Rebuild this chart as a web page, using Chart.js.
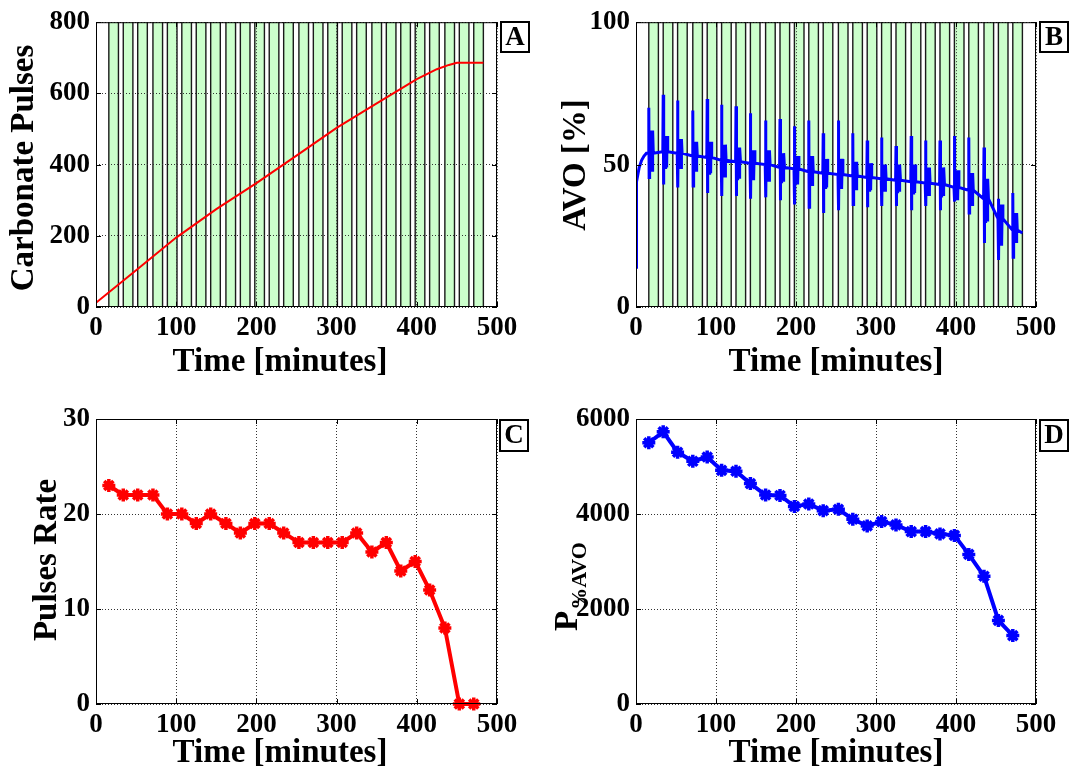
<!DOCTYPE html>
<html>
<head>
<meta charset="utf-8">
<title>Carbonate pulses and AVO</title>
<script src="https://cdn.jsdelivr.net/npm/chart.js@4.4.1/dist/chart.umd.min.js"></script>
<style>
  html, body { margin: 0; padding: 0; background: #fff; }
  #wrap { position: relative; width: 1070px; height: 771px; overflow: hidden; background: #fff; }
  #wrap canvas { position: absolute; }
</style>
</head>
<body>
<div id="wrap">
  <canvas id="chartA" width="535" height="385" style="left:0;top:0"></canvas>
  <canvas id="chartB" width="535" height="385" style="left:535px;top:0"></canvas>
  <canvas id="chartC" width="535" height="386" style="left:0;top:385px"></canvas>
  <canvas id="chartD" width="535" height="386" style="left:535px;top:385px"></canvas>
</div>
<script>
/* ── data ── */

// start of each carbonate cycle (minutes) and how long its green window lasts
const cycleTimes = [16, 34, 52, 71, 89, 107, 125, 143, 162, 180, 198, 216, 234,
                    253, 271, 289, 307, 325, 344, 362, 380, 398, 416, 435, 453, 471];
const cycleLength = 12;

// A: cumulative carbonate pulses
const pulsesTime  = [0, 50, 100, 150, 200, 250, 300, 350, 400, 425, 440, 450, 483];
const pulsesCount = [12, 103, 195, 275, 348, 425, 503, 572, 640, 668, 680, 686, 686];

// B: AVO [%] — start-up rise, then per-cycle baseline / spike / ringing levels
const avoRiseTime  = [0, 0.3, 1, 2, 4, 7, 10, 13];
const avoRiseValue = [14, 38, 44, 46, 49, 51.5, 53, 54];
const avoBase   = [54, 54.5, 54, 53, 52.5, 51.5, 51, 50.5, 50, 49, 48.5, 47.5, 47,
                   46.5, 46, 45.5, 45, 44.5, 44, 43.5, 43, 42, 41, 38, 31, 27];
const avoPeak   = [70, 74.5, 72.5, 69, 73, 71, 70.5, 68, 65.5, 66, 63.5, 65.5, 61,
                   65.5, 61, 58.5, 59.5, 56.5, 60, 58.5, 58.5, 60, 59.5, 56, 38, 40];
const avoTrough = [45.5, 43, 42, 42.5, 40, 39, 39, 38, 38.5, 37.5, 36, 35, 33,
                   34, 36, 35, 35.5, 35.5, 34, 35.5, 34, 37, 33, 22.5, 16.5, 17.5];
const avoRingHigh = [62, 60, 59, 58, 58, 57, 56, 55, 55, 54, 53, 53, 52,
                     52, 51, 50.5, 50, 50, 50, 49, 49, 48, 47, 45, 36, 33];
const avoRingLow  = [48, 49, 49, 48, 47, 46, 45, 45, 44.5, 44, 43.5, 43, 42,
                     42, 41.5, 41, 41, 40.5, 40, 39.5, 39, 38, 36, 30, 22, 23];
const ringSteps = [0.8, 1.3, 1.8, 2.3, 2.8, 3.3, 3.8, 4.3, 4.8];
const avoEndTime = 483;
const avoEndValue = 26;

// C: pulses rate per cycle
const pulseRate = [23, 22, 22, 22, 20, 20, 19, 20, 19, 18, 19, 19, 18,
                   17, 17, 17, 17, 18, 16, 17, 14, 15, 12, 8, 0, 0];

// D: P %AVO per cycle
const pAvo = [5500, 5730, 5300, 5110, 5200, 4920, 4900, 4640, 4400, 4390, 4160, 4210, 4070,
              4100, 3890, 3750, 3840, 3770, 3630, 3630, 3580, 3550, 3150, 2690, 1760, 1440];

/* ── shared look ── */
const SERIF = '"Liberation Serif", "Times New Roman", serif';
const tickFont = { family: SERIF, size: 27, weight: 'bold' };

function buildAvoSeries() {
    const pts = avoRiseTime.map((t, i) => ({ x: t, y: avoRiseValue[i] }));
    cycleTimes.forEach((t, i) => {
        pts.push({ x: t - 0.5, y: avoBase[i] });
        pts.push({ x: t, y: avoPeak[i] });
        pts.push({ x: t + 0.4, y: avoTrough[i] });
        ringSteps.forEach((dt, k) => {
            pts.push({ x: t + dt, y: k % 2 ? avoRingLow[i] : avoRingHigh[i] });
        });
        pts.push({ x: t + 5.6, y: avoBase[i] });
    });
    pts.push({ x: avoEndTime, y: avoEndValue });
    return pts;
}

// green cycle windows, frame, inner tick marks, titles and the panel letter
const panelDecor = {
    id: 'panelDecor',
    beforeDraw(chart, args, opts) {
        if (!opts.bands) return;
        const { ctx, chartArea: a } = chart;
        const xs = chart.scales.x;
        ctx.save();
        cycleTimes.forEach((t) => {
            const x0 = xs.getPixelForValue(t);
            const x1 = xs.getPixelForValue(t + cycleLength);
            ctx.fillStyle = '#ccffcc';
            ctx.fillRect(x0, a.top, x1 - x0, a.bottom - a.top);
            ctx.strokeStyle = '#1a1a1a';
            ctx.lineWidth = 1.4;
            ctx.beginPath();
            ctx.moveTo(x0, a.top); ctx.lineTo(x0, a.bottom);
            ctx.moveTo(x1, a.top); ctx.lineTo(x1, a.bottom);
            ctx.stroke();
        });
        ctx.restore();
    },
    afterDraw(chart, args, opts) {
        const { ctx, chartArea: a } = chart;
        const xs = chart.scales.x, ys = chart.scales.y;
        ctx.save();

        // frame + ticks pointing inwards
        ctx.strokeStyle = '#000';
        ctx.lineWidth = 1;
        ctx.strokeRect(a.left + 0.5, a.top + 0.5, a.right - a.left - 1, a.bottom - a.top - 1);
        ctx.beginPath();
        xs.ticks.forEach((tk) => {
            const p = Math.round(xs.getPixelForValue(tk.value)) + 0.5;
            ctx.moveTo(p, a.bottom); ctx.lineTo(p, a.bottom - 5);
            ctx.moveTo(p, a.top); ctx.lineTo(p, a.top + 5);
        });
        ys.ticks.forEach((tk) => {
            const p = Math.round(ys.getPixelForValue(tk.value)) + 0.5;
            ctx.moveTo(a.left, p); ctx.lineTo(a.left + 5, p);
            ctx.moveTo(a.right, p); ctx.lineTo(a.right - 5, p);
        });
        ctx.stroke();

        ctx.fillStyle = '#000';

        // x title
        ctx.font = 'bold ' + opts.titleSize + 'px ' + SERIF;
        ctx.textAlign = 'center';
        ctx.textBaseline = 'alphabetic';
        ctx.fillText(opts.xTitle.text, opts.xTitle.x, opts.xTitle.y);

        // y title (rotated), optional subscript
        ctx.save();
        ctx.translate(opts.yTitle.x, opts.yTitle.y);
        ctx.rotate(-Math.PI / 2);
        if (opts.yTitle.sub) {
            const mainFont = 'bold ' + opts.titleSize + 'px ' + SERIF;
            const subFont = 'bold ' + opts.yTitle.subSize + 'px ' + SERIF;
            ctx.font = mainFont;
            const mainW = ctx.measureText(opts.yTitle.text).width;
            ctx.font = subFont;
            const subW = ctx.measureText(opts.yTitle.sub).width;
            const start = -(mainW + subW) / 2;
            ctx.textAlign = 'left';
            ctx.font = mainFont;
            ctx.fillText(opts.yTitle.text, start, 0);
            ctx.font = subFont;
            ctx.fillText(opts.yTitle.sub, start + mainW + 1, opts.yTitle.subDrop);
        } else {
            ctx.fillText(opts.yTitle.text, 0, 0);
        }
        ctx.restore();

        // panel letter box
        const L = opts.letter;
        ctx.fillStyle = '#fff';
        ctx.fillRect(L.x, L.y, L.w, L.h);
        ctx.strokeStyle = '#000';
        ctx.lineWidth = 2;
        ctx.strokeRect(L.x, L.y, L.w, L.h);
        ctx.fillStyle = '#000';
        ctx.font = 'bold 27px ' + SERIF;
        ctx.textAlign = 'center';
        ctx.textBaseline = 'middle';
        ctx.fillText(L.text, L.x + L.w / 2, L.y + L.h / 2 + 1);

        ctx.restore();
    },
};

function scalesFor(box, yMax, yStep) {
    return {
        x: {
            type: 'linear', min: 0, max: 500,
            ticks: { stepSize: 100, padding: 5, font: tickFont, color: '#000', maxRotation: 0, autoSkip: false },
            grid: { color: '#333', lineWidth: 1, drawTicks: false },
            border: { display: false, dash: [1, 2] },
            afterFit: (s) => { s.height = box.h - box.bottom; },
        },
        y: {
            type: 'linear', min: 0, max: yMax,
            ticks: { stepSize: yStep, padding: 6, font: tickFont, color: '#000', autoSkip: false,
                     callback: (v) => String(v) },
            grid: { color: '#333', lineWidth: 1, drawTicks: false },
            border: { display: false, dash: [1, 2] },
            afterFit: (s) => { s.width = box.left; },
        },
    };
}

function makePanel(id, box, yMax, yStep, datasets, decor) {
    return new Chart(document.getElementById(id), {
        type: 'line',
        data: { datasets },
        options: {
            responsive: false,
            animation: false,
            devicePixelRatio: 1,
            events: [],
            layout: { padding: { top: box.top, right: box.w - box.right, left: 0, bottom: 0 } },
            scales: scalesFor(box, yMax, yStep),
            plugins: {
                legend: { display: false },
                tooltip: { enabled: false },
                panelDecor: Object.assign({ titleSize: 33 }, decor),
            },
        },
        plugins: [panelDecor],
    });
}

function markerSet(values, color) {
    return {
        data: cycleTimes.map((t, i) => ({ x: t, y: values[i] })),
        borderColor: color,
        backgroundColor: color,
        borderWidth: 4,
        pointStyle: 'star',
        pointRadius: 6.5,
        pointBorderWidth: 3.5,
        pointBorderColor: color,
        tension: 0,
        clip: false,
    };
}

function init() {
    const topBox = { w: 535, h: 385, left: 96, right: 497, top: 21, bottom: 307 };
    const topBoxR = { w: 535, h: 385, left: 101, right: 501, top: 21, bottom: 307 };
    const lowBox = { w: 535, h: 386, left: 96, right: 497, top: 34, bottom: 319 };
    const lowBoxR = { w: 535, h: 386, left: 101, right: 501, top: 34, bottom: 319 };

    makePanel('chartA', topBox, 800, 200, [{
        data: pulsesTime.map((t, i) => ({ x: t, y: pulsesCount[i] })),
        borderColor: '#ff0000', borderWidth: 2, pointRadius: 0, tension: 0,
    }], {
        bands: true,
        xTitle: { text: 'Time [minutes]', x: 280, y: 371 },
        yTitle: { text: 'Carbonate Pulses', x: 33, y: 168 },
        letter: { text: 'A', x: 501, y: 22, w: 28, h: 30 },
    });

    makePanel('chartB', topBoxR, 100, 50, [{
        data: buildAvoSeries(),
        borderColor: '#0000ff', borderWidth: 3, pointRadius: 0, tension: 0,
    }], {
        bands: true,
        xTitle: { text: 'Time [minutes]', x: 301, y: 371 },
        yTitle: { text: 'AVO [%]', x: 50, y: 165 },
        letter: { text: 'B', x: 505, y: 22, w: 28, h: 30 },
    });

    makePanel('chartC', lowBox, 30, 10, [markerSet(pulseRate, '#ff0000')], {
        xTitle: { text: 'Time [minutes]', x: 280, y: 377 },
        yTitle: { text: 'Pulses Rate', x: 56, y: 175 },
        letter: { text: 'C', x: 500, y: 35, w: 28, h: 31 },
    });

    makePanel('chartD', lowBoxR, 6000, 2000, [markerSet(pAvo, '#0000ff')], {
        xTitle: { text: 'Time [minutes]', x: 301, y: 377 },
        yTitle: { text: 'P', sub: '%AVO', subSize: 22, subDrop: 9, x: 42, y: 202 },
        letter: { text: 'D', x: 505, y: 35, w: 28, h: 31 },
    });
}

init();
</script>
</body>
</html>
